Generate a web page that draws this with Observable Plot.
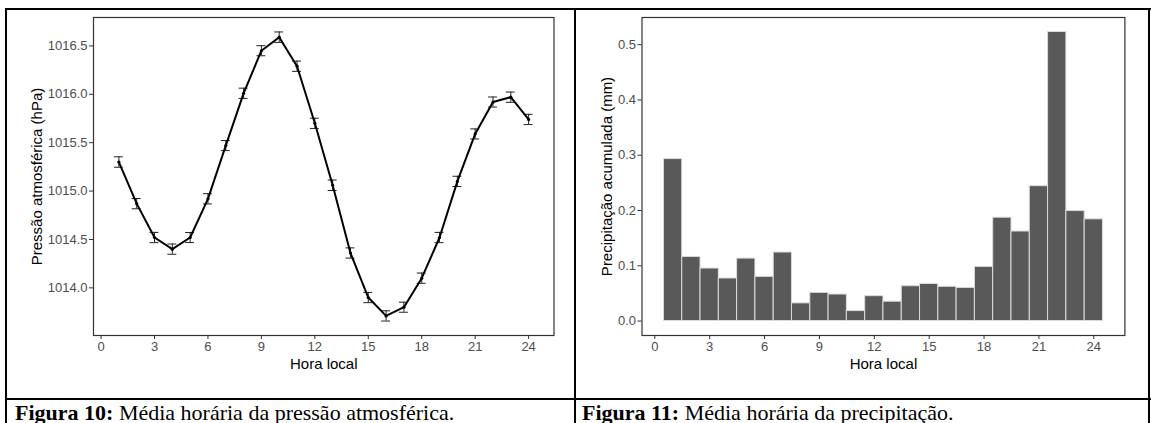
<!DOCTYPE html>
<html>
<head>
<meta charset="utf-8">
<script src="https://cdn.jsdelivr.net/npm/d3@7"></script>
<script src="https://cdn.jsdelivr.net/npm/@observablehq/plot@0.6"></script>
<style>
  html, body { margin: 0; padding: 0; background: #fff; }
  #page { position: relative; width: 1151px; height: 423px; overflow: hidden; background: #fff; }
  .rule { position: absolute; background: #000; }
  .cell { position: absolute; }
  .caption { position: absolute; font-family: "Liberation Serif", "Times New Roman", serif; font-size: 22px; line-height: 22px; white-space: nowrap; color: #000; }
  .caption b { font-weight: bold; }
</style>
</head>
<body>
<div id="page">
  <div class="cell" id="fig10" style="left:7px; top:10px;"></div>
  <div class="cell" id="fig11" style="left:576px; top:10px;"></div>
  <div class="rule" style="left:5px; top:8px; width:1146px; height:2px;"></div>
  <div class="rule" style="left:5px; top:8px; width:2px; height:415px;"></div>
  <div class="rule" style="left:574px; top:8px; width:2px; height:415px;"></div>
  <div class="rule" style="left:1148px; top:8px; width:2px; height:415px;"></div>
  <div class="rule" style="left:5px; top:398px; width:1146px; height:2px;"></div>
  <div class="caption" style="left:15px; top:402px;"><b>Figura 10:</b> Média horária da pressão atmosférica.</div>
  <div class="caption" style="left:582px; top:402px;"><b>Figura 11:</b> Média horária da precipitação.</div>
</div>
<script>
// Hourly means (local time, 1..24)
const horas = [1, 2, 3, 4, 5, 6, 7, 8, 9, 10, 11, 12, 13, 14, 15, 16, 17, 18, 19, 20, 21, 22, 23, 24];

// Mean atmospheric pressure (hPa) and its standard error
const pressao = [1015.30, 1014.87, 1014.52, 1014.40, 1014.52, 1014.92, 1015.47, 1016.01,
                 1016.45, 1016.59, 1016.29, 1015.70, 1015.06, 1014.36, 1013.90, 1013.71,
                 1013.80, 1014.10, 1014.52, 1015.10, 1015.59, 1015.92, 1015.97, 1015.74];
const erroPressao = [0.054, 0.053, 0.053, 0.053, 0.052, 0.053, 0.052, 0.053,
                     0.052, 0.054, 0.053, 0.053, 0.054, 0.053, 0.053, 0.053,
                     0.052, 0.053, 0.053, 0.053, 0.052, 0.052, 0.053, 0.053];

// Mean accumulated precipitation (mm)
const precipitacao = [0.293, 0.116, 0.095, 0.077, 0.113, 0.080, 0.124, 0.032,
                      0.051, 0.048, 0.018, 0.045, 0.035, 0.063, 0.067, 0.062,
                      0.060, 0.098, 0.187, 0.162, 0.244, 0.523, 0.199, 0.184];

const xTicks = [0, 3, 6, 9, 12, 15, 18, 21, 24];
const tickFont = "Liberation Sans, Arial, sans-serif";

const dadosP = horas.map((h, i) => ({hora: h, p: pressao[i], e: erroPressao[i]}));
const dadosR = horas.map((h, i) => ({hora: h, mm: precipitacao[i]}));

// ggplot-like 5% padding around the data range
function pad(lo, hi) { const k = (hi - lo) * 0.05; return [lo - k, hi + k]; }

const capHalf = 0.25;
const pLo = d3.min(dadosP, d => d.p - d.e), pHi = d3.max(dadosP, d => d.p + d.e);

const axisCommon = {fontSize: 13, fill: "#4d4d4d", stroke: "#333", tickSize: 4, label: null};
const titleStyle = {fontSize: 15, fill: "black", textAnchor: "middle", lineAnchor: "middle"};

const fig10 = Plot.plot({
  width: 567, height: 388,
  marginLeft: 86, marginRight: 20.5, marginTop: 7, marginBottom: 63,
  style: {fontFamily: tickFont, background: "white"},
  x: {domain: pad(horas[0] - capHalf, horas[horas.length - 1] + capHalf)},
  y: {domain: pad(pLo, pHi)},
  marks: [
    Plot.axisX({...axisCommon, ticks: xTicks, tickPadding: 2}),
    Plot.axisY({...axisCommon, ticks: [1014.0, 1014.5, 1015.0, 1015.5, 1016.0, 1016.5], tickFormat: d3.format(".1f"), tickPadding: 2}),
    Plot.ruleX(dadosP, {x: "hora", y1: d => d.p - d.e, y2: d => d.p + d.e, stroke: "#222", strokeWidth: 1}),
    Plot.ruleY(dadosP, {y: d => d.p + d.e, x1: d => d.hora - capHalf, x2: d => d.hora + capHalf, stroke: "#222", strokeWidth: 1}),
    Plot.ruleY(dadosP, {y: d => d.p - d.e, x1: d => d.hora - capHalf, x2: d => d.hora + capHalf, stroke: "#222", strokeWidth: 1}),
    Plot.line(dadosP, {x: "hora", y: "p", stroke: "black", strokeWidth: 2}),
    Plot.dot(dadosP, {x: "hora", y: "p", r: 1.6, fill: "black"}),
    Plot.frame({stroke: "#333", strokeWidth: 1.2}),
    Plot.text(["Hora local"], {...titleStyle, frameAnchor: "bottom", dy: 29}),
    Plot.text(["Pressão atmosférica (hPa)"], {...titleStyle, frameAnchor: "left", rotate: -90, dx: -56})
  ]
});
document.getElementById("fig10").append(fig10);

const fig11 = Plot.plot({
  width: 572, height: 388,
  marginLeft: 65.5, marginRight: 23.6, marginTop: 7, marginBottom: 63,
  style: {fontFamily: tickFont, background: "white"},
  x: {domain: pad(horas[0] - 0.5, horas[horas.length - 1] + 0.5)},
  y: {domain: pad(0, d3.max(precipitacao))},
  marks: [
    Plot.axisX({...axisCommon, ticks: xTicks, tickPadding: 2}),
    Plot.axisY({...axisCommon, ticks: [0, 0.1, 0.2, 0.3, 0.4, 0.5], tickFormat: d3.format(".1f"), tickPadding: 2}),
    Plot.rectY(dadosR, {x1: d => d.hora - 0.5, x2: d => d.hora + 0.5, y: "mm", fill: "#595959", stroke: "#dcdcdc", strokeWidth: 1}),
    Plot.frame({stroke: "#333", strokeWidth: 1.2}),
    Plot.text(["Hora local"], {...titleStyle, frameAnchor: "bottom", dy: 29}),
    Plot.text(["Precipitação acumulada (mm)"], {...titleStyle, frameAnchor: "left", rotate: -90, dx: -35})
  ]
});
document.getElementById("fig11").append(fig11);
</script>
</body>
</html>
